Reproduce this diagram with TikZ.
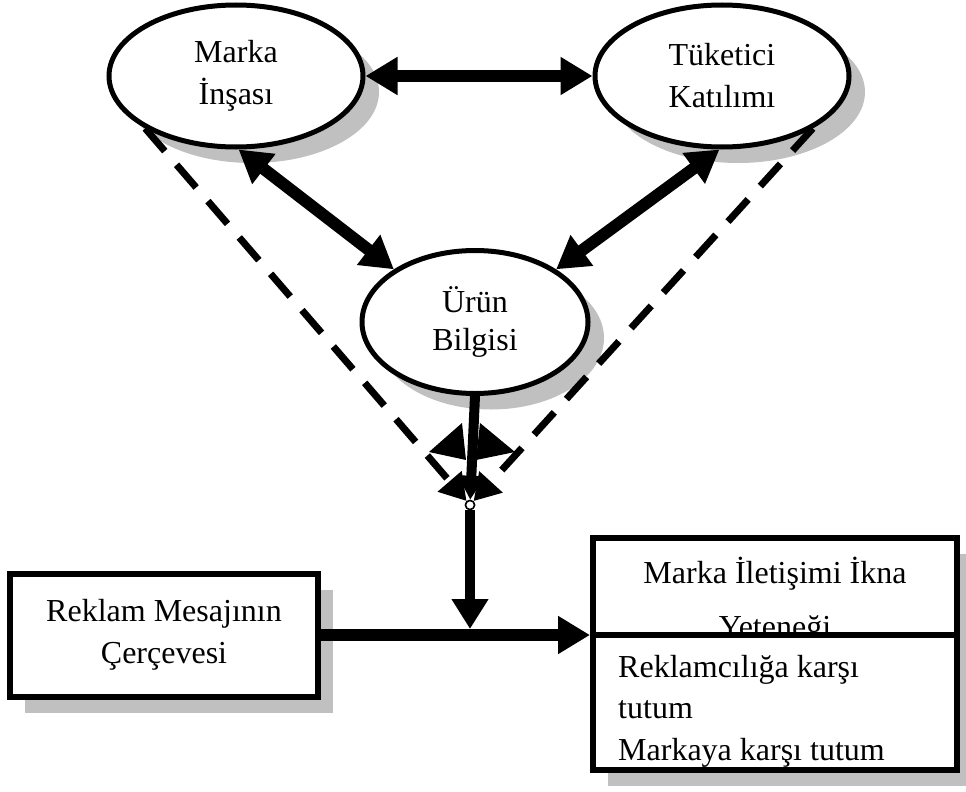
\documentclass[tikz,border=0pt]{standalone}
\usepackage{fontspec}
\setmainfont{Liberation Serif}
\usetikzlibrary{shapes.geometric,arrows.meta,shadows}
\definecolor{shadowgray}{RGB}{192,192,192}
\begin{document}
\begin{tikzpicture}[x=1pt, y=-1pt, font=\fontsize{32}{42}\selectfont,
    oval/.style = {draw, ellipse, line width=5pt, fill=white, align=center, inner sep=0pt,
        minimum width=254pt, minimum height=142pt,
        drop shadow={shadow xshift=16pt, shadow yshift=-16pt, fill=shadowgray, opacity=1}},
    box/.style = {draw, rectangle, line width=6pt, fill=white, inner sep=0pt,
        drop shadow={shadow xshift=15pt, shadow yshift=-16pt, fill=shadowgray, opacity=1}},
    bigarrow/.style = {line width=12pt, >={Triangle[length=32pt,width=36pt]}},
    dashline/.style = {line width=7pt, dash pattern=on 30pt off 18pt,
        -{Triangle[length=26pt,width=30pt]}},
    junction/.style = {draw, circle, fill=white, line width=1.5pt, inner sep=0pt, minimum size=9pt}]
    \useasboundingbox (0,0) rectangle (966,792);
    \node[oval] (marka) at (236,76) {Marka\\İnşası};
    \node[oval] (tuket) at (722,76) {Tüketici\\Katılımı};
    \node[oval, minimum width=226pt, minimum height=143pt, font=\fontsize{32}{38}\selectfont] (urun) at (475,322) {Ürün\\Bilgisi};
    \node[junction] (junc) at (470,505) {};
    \draw[dashline] (marka.210) -- (junc);
    \draw[dashline] (tuket.-30) -- (junc);
    \draw[bigarrow, <->] (marka) -- (tuket);
    \draw[bigarrow, <->] (marka.-88) -- (urun.147);
    \draw[bigarrow, <->] (tuket.-92) -- (urun.33);
    \fill (429,452) -- (462,423) -- (466,460) -- cycle;
    \fill (515,452) -- (480,423) -- (476,460) -- cycle;
    \draw[line width=10pt, -{Triangle[length=24pt,width=26pt]}] (urun.south) -- (junc);
    \node[junction] at (junc) {};
    \node[box, minimum width=308pt, minimum height=123pt, align=center] (lbox) at (164,635)
        {Reklam Mesajının\\Çerçevesi};
    \node[box, minimum width=364pt, minimum height=97pt] (title) at (775,586.5) {};
    \node[anchor=base] (title1) at (775,583) {Marka İletişimi İkna};
    \node[anchor=base] (title2) at (775,637) {Yeteneği};
    \node[box, minimum width=364pt, minimum height=135pt] (list) at (775,702.5) {};
    \node[anchor=base west, inner sep=0pt] (item1) at (618,677) {Reklamcılığa karşı};
    \node[anchor=base west, inner sep=0pt] (item2) at (618,718) {tutum};
    \node[anchor=base west, inner sep=0pt] (item3) at (618,760) {Markaya karşı tutum};
    \draw[bigarrow, ->] (lbox.east) -- (lbox.east -| title.south west);
    \draw[line width=10pt, -{Triangle[length=30pt,width=35pt]}, shorten >=6pt] (junc) -- (junc |- lbox.east);
\end{tikzpicture}
\end{document}
